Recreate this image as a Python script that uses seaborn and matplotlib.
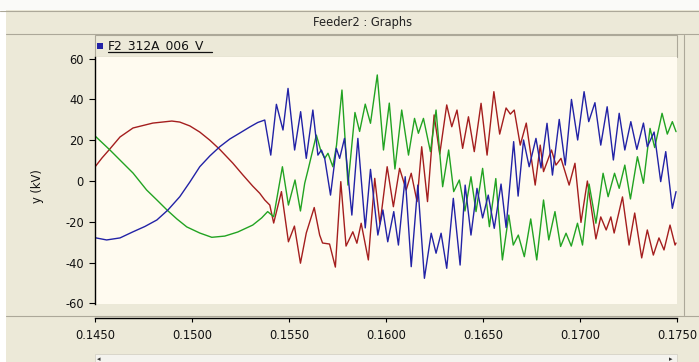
import matplotlib
matplotlib.use("Agg")
import matplotlib.pyplot as plt
import seaborn as sns
import pandas as pd
from matplotlib.patches import Rectangle
from matplotlib.lines import Line2D

# ---------------- data (time in s, voltage in kV) ----------------
t_blue = [0.14500, 0.14560, 0.14629, 0.14696, 0.14757, 0.14819, 0.14876, 0.14937, 0.14989,
          0.15040, 0.15092, 0.15143, 0.15195, 0.15246, 0.15298, 0.15339, 0.15375,
          0.15406, 0.15435, 0.15469, 0.15495, 0.15529, 0.15560, 0.15589, 0.15623, 0.15649, 0.15667,
          0.15684, 0.15714, 0.15744, 0.15761, 0.15786, 0.15824, 0.15855, 0.15893, 0.15920, 0.15958,
          0.15984, 0.16009, 0.16040, 0.16064, 0.16099, 0.16130, 0.16164, 0.16198, 0.16233, 0.16258,
          0.16284, 0.16313, 0.16347, 0.16382, 0.16408, 0.16438, 0.16469, 0.16498, 0.16527, 0.16558,
          0.16593, 0.16619, 0.16658, 0.16681, 0.16709, 0.16738, 0.16773, 0.16799, 0.16830, 0.16858,
          0.16893, 0.16924, 0.16956, 0.16988, 0.17021, 0.17045, 0.17077, 0.17107, 0.17140, 0.17172,
          0.17202, 0.17231, 0.17262, 0.17293, 0.17327, 0.17347, 0.17382, 0.17416, 0.17442, 0.17476,
          0.17495]
v_blue = [-27.8, -28.9, -27.9, -24.9, -22.3, -19.1, -14.2, -7.7, -0.5,
          7.0, 12.3, 16.8, 20.6, 23.5, 26.5, 28.7, 29.9,
          12.7, 37.6, 25.0, 45.4, 15.2, 34.0, 11.1, 34.8, 12.7, 15.2,
          11.1, -6.9, 16.0, 11.1, 20.9, -16.7, 20.9, -23.0, 5.7, -26.5,
          -14.2, -29.8, -15.0, -31.4, 2.1, -42.0, -2.0, -47.7, -25.6, -35.4,
          -25.6, -42.8, -8.5, -41.2, -2.0, -26.5, -3.6, -18.1, -6.9, -23.2,
          -1.5, -22.8, 19.3, -7.4, 20.1, 7.0, 20.9, 6.4, 28.3, 2.9,
          30.2, 7.8, 40.0, 20.1, 43.8, 29.1, 38.4, 17.6, 36.4, 10.3,
          33.2, 15.2, 29.1, 15.5, 28.4, 16.8, 24.0, -0.3, 14.4, -13.4,
          -5.2]

t_red = [0.14500, 0.14536, 0.14572, 0.14629, 0.14696, 0.14798, 0.14896, 0.14937, 0.14989,
         0.15040, 0.15092, 0.15143, 0.15210, 0.15262, 0.15313, 0.15349,
         0.15375, 0.15401, 0.15421, 0.15461, 0.15497, 0.15528, 0.15559, 0.15589, 0.15630, 0.15658,
         0.15673, 0.15709, 0.15739, 0.15767, 0.15794, 0.15829, 0.15850, 0.15872, 0.15909, 0.15942,
         0.15969, 0.16006, 0.16038, 0.16070, 0.16104, 0.16130, 0.16160, 0.16184, 0.16214, 0.16248,
         0.16277, 0.16313, 0.16339, 0.16366, 0.16395, 0.16425, 0.16455, 0.16490, 0.16521, 0.16556,
         0.16586, 0.16619, 0.16641, 0.16661, 0.16692, 0.16723, 0.16769, 0.16795, 0.16812, 0.16853,
         0.16876, 0.16902, 0.16944, 0.16974, 0.17005, 0.17038, 0.17082, 0.17107, 0.17135, 0.17159,
         0.17176, 0.17219, 0.17253, 0.17282, 0.17318, 0.17347, 0.17378, 0.17407, 0.17433, 0.17464,
         0.17490, 0.17495]
v_red = [6.9, 11.3, 15.2, 21.6, 26.0, 28.4, 29.4, 28.9, 27.0,
         24.0, 20.0, 15.5, 8.8, 3.0, -2.5, -6.0,
         -9.3, -11.8, -20.6, -5.2, -29.8, -22.1, -40.3, -25.5, -13.0, -26.5,
         -30.4, -30.9, -42.2, -0.3, -31.9, -24.9, -30.5, -20.7, -38.7, 1.3,
         -21.1, 7.0, -12.6, 6.2, -4.4, 3.8, -10.1, 16.8, -10.1, 32.4,
         13.2, 37.3, 26.6, 34.8, 16.0, 31.5, 14.4, 38.1, 12.7, 43.8,
         23.0, 35.8, 32.8, 34.8, 17.6, 28.4, -2.0, 17.6, 4.6, 15.2,
         7.8, 11.1, -2.0, 8.7, -20.3, 0.0, -28.4, -17.6, -24.0, -17.6,
         -25.5, -7.8, -31.4, -15.7, -37.7, -24.0, -36.3, -27.9, -33.8, -21.6,
         -31.4, -30.4]

t_green = [0.14500, 0.14577, 0.14639, 0.14696, 0.14766, 0.14819, 0.14871, 0.14922, 0.14973,
           0.15040, 0.15102, 0.15169, 0.15236, 0.15313, 0.15359, 0.15390,
           0.15421, 0.15466, 0.15497, 0.15531, 0.15559, 0.15581, 0.15598, 0.15641, 0.15663, 0.15684,
           0.15701, 0.15726, 0.15745, 0.15773, 0.15804, 0.15840, 0.15864, 0.15893, 0.15920, 0.15955,
           0.15987, 0.16017, 0.16046, 0.16081, 0.16116, 0.16147, 0.16167, 0.16193, 0.16229, 0.16258,
           0.16292, 0.16323, 0.16349, 0.16378, 0.16407, 0.16438, 0.16464, 0.16498, 0.16533, 0.16566,
           0.16600, 0.16633, 0.16656, 0.16682, 0.16713, 0.16746, 0.16777, 0.16812, 0.16839, 0.16871,
           0.16900, 0.16928, 0.16955, 0.16987, 0.17013, 0.17047, 0.17082, 0.17119, 0.17145, 0.17178,
           0.17202, 0.17231, 0.17260, 0.17296, 0.17327, 0.17361, 0.17385, 0.17423, 0.17450, 0.17476,
           0.17495]
v_green = [22.1, 15.2, 9.3, 3.9, -4.4, -9.3, -14.2, -18.6, -22.5,
           -25.5, -27.6, -27.0, -25.0, -21.6, -18.1, -15.0,
           -17.5, 7.0, -11.8, 0.5, -14.7, -1.1, 5.4, 22.5, 15.2, 11.1,
           13.6, 7.0, 17.6, 44.6, -2.0, 33.6, 24.3, 37.7, 28.3, 52.0,
           15.2, 38.2, 5.9, 34.8, 12.7, 30.7, 23.4, 30.7, 14.4, 34.8,
           -2.8, 15.2, -5.2, 0.5, -14.7, 2.1, -15.0, 6.2, -22.4, 1.2,
           -38.7, -16.7, -31.4, -26.5, -37.1, -18.6, -38.7, -9.3, -28.9, -15.0,
           -32.1, -25.6, -31.9, -20.7, -31.4, -1.5, -20.7, 3.8, -7.7, 3.8,
           -3.6, 7.8, -8.8, 11.9, -1.1, 25.8, 16.4, 33.2, 23.0, 29.1,
           24.2]

x_ticks = [0.1450, 0.1500, 0.1550, 0.1600, 0.1650, 0.1700, 0.1750]
y_ticks = [-60, -40, -20, 0, 20, 40, 60]
legend_label = "F2_312A_006_V"
title_text = "Feeder2 : Graphs"
y_label = "y (kV)"

# ---------------- styling ----------------
sns.set_theme(style="white")
plt.rcParams['font.family'] = ['DejaVu Sans']

W, H = 699, 362
def fx(p):
    return p / W
def fy(p):
    return 1 - p / H

BG = '#ECE9D8'
PLOT_BG = '#FFFBF0'
EDGE = '#ACA899'
C_BLUE = '#2222A6'
C_RED = '#A41E1E'
C_GREEN = '#22A322'

fig = plt.figure(figsize=(W / 100, H / 100), dpi=100, facecolor=BG)

def frect(x0, y0, x1, y1, fc, ec='none', lw=0.8, z=0):
    fig.add_artist(Rectangle((fx(x0), fy(y1)), fx(x1) - fx(x0), fy(y0) - fy(y1),
                             transform=fig.transFigure, facecolor=fc, edgecolor=ec,
                             linewidth=lw, zorder=z))

def fline(x0, y0, x1, y1, c, lw=0.8, z=1):
    fig.add_artist(Line2D([fx(x0), fx(x1)], [fy(y0), fy(y1)], transform=fig.transFigure,
                          color=c, linewidth=lw, zorder=z))

# window chrome
frect(0, 0, W, 10, '#FAFAF8')
fline(0, 10.5, W, 10.5, EDGE)
frect(0, 10, 6, H, '#FFFFFF')
fline(6, 33.5, W, 33.5, EDGE)
fig.text(fx(363), fy(22.5), title_text, ha='center', va='center', fontsize=8.3, color='#222222')
# legend band
frect(95, 35, 677, 56.5, BG, ec=EDGE, lw=0.8)
fline(684, 35, 684, 315, EDGE)
fline(6, 315.5, W, 315.5, EDGE)
# scrollbar
frect(95, 354, 677, H, '#F4F3EE', ec='#D5D2C6', lw=0.6)
fig.text(fx(99), fy(359), '\u25C2', ha='center', va='center', fontsize=5, color='#333333')
fig.text(fx(671), fy(359), '\u25B8', ha='center', va='center', fontsize=5, color='#333333')

# main axes
ax = fig.add_axes([fx(95), fy(304), fx(677) - fx(95), (304 - 57) / H])
ax.set_facecolor(PLOT_BG)
for name in ['top', 'right', 'bottom']:
    ax.spines[name].set_visible(False)
ax.spines['left'].set_color('black')
ax.spines['left'].set_linewidth(1.0)

df_r = pd.DataFrame({'t': t_red, 'v': v_red})
df_g = pd.DataFrame({'t': t_green, 'v': v_green})
df_b = pd.DataFrame({'t': t_blue, 'v': v_blue})
sns.lineplot(data=df_r, x='t', y='v', sort=False, estimator=None, color=C_RED, lw=1.0, ax=ax)
sns.lineplot(data=df_g, x='t', y='v', sort=False, estimator=None, color=C_GREEN, lw=1.0, ax=ax)
sns.lineplot(data=df_b, x='t', y='v', sort=False, estimator=None, color=C_BLUE, lw=1.0, ax=ax)

ax.set_xlim(x_ticks[0], x_ticks[-1])
ax.set_ylim(-60.3, 60.8)
ax.set_xticks([])
ax.set_yticks(y_ticks)
ax.set_yticklabels([str(v) for v in y_ticks])
ax.set_xlabel('')
ax.set_ylabel('')
ax.tick_params(axis='y', direction='out', length=4.5, width=0.8, color='black',
               pad=3.5, labelsize=8.3, labelcolor='#111111', left=True)
fig.text(fx(38), fy(186), y_label, rotation=90, ha='center', va='center',
         fontsize=8.3, color='#111111')

# x axis strip
axx = fig.add_axes([fx(95), fy(317.5), fx(677) - fx(95), 0.0005])
axx.set_facecolor('none')
for name in ['top', 'right', 'left']:
    axx.spines[name].set_visible(False)
axx.spines['bottom'].set_color('black')
axx.spines['bottom'].set_linewidth(1.0)
axx.set_xlim(x_ticks[0], x_ticks[-1])
axx.set_ylim(0, 1)
axx.set_yticks([])
axx.set_xticks(x_ticks)
axx.set_xticklabels([f"{t:.4f}" for t in x_ticks])
axx.tick_params(axis='x', direction='out', length=3, width=0.8, color='black',
                pad=5, labelsize=8.3, labelcolor='#111111', bottom=True)

# legend entry
frect(97.5, 42.5, 103.5, 48.5, C_BLUE, z=3)
fig.text(fx(108), fy(45.5), legend_label, ha='left', va='center', fontsize=8.8, color='#111111')
fline(108, 52.3, 212, 52.3, '#111111', lw=0.9, z=3)

fig.savefig('out.png', dpi=100, facecolor=BG)
